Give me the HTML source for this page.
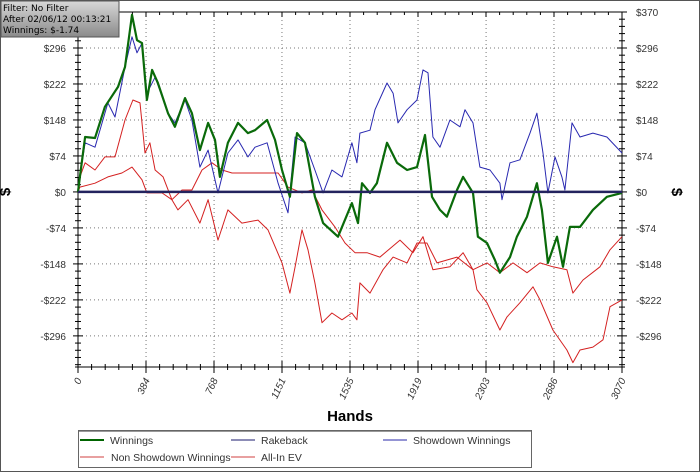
<!DOCTYPE html>
<html><head><meta charset="utf-8"><style>
body{margin:0;background:#fff;}
#wrap{position:relative;width:700px;height:472px;overflow:hidden;font-family:"Liberation Sans",sans-serif;}
svg text{font-family:"Liberation Sans",sans-serif;}
</style></head><body>
<div id="wrap">
<svg id="chart" width="700" height="472" viewBox="0 0 700 472">
<defs><linearGradient id="tg" x1="0" y1="0" x2="0" y2="1"><stop offset="0" stop-color="#d8d8d8"/><stop offset="1" stop-color="#8a8a8a"/></linearGradient></defs>
<rect x="0.5" y="0.5" width="699" height="471" fill="#fff" stroke="#555"/>
<g id="grid"></g><g id="axes"></g><g id="series"></g>
<text x="350" y="421" font-size="15" font-weight="bold" text-anchor="middle">Hands</text>
<text transform="translate(10,192) rotate(-90)" font-size="15" font-weight="bold" text-anchor="middle">$</text>
<text transform="translate(672,192) rotate(90)" font-size="15" font-weight="bold" text-anchor="middle">$</text>
<g>
<rect x="1" y="1" width="118" height="36" fill="url(#tg)" stroke="#555"/>
<text x="3" y="11" font-size="9" style="font-family:'DejaVu Sans',sans-serif">Filter: No Filter</text>
<text x="3" y="22" font-size="9" style="font-family:'DejaVu Sans',sans-serif">After 02/06/12 00:13:21</text>
<text x="3" y="33" font-size="9" style="font-family:'DejaVu Sans',sans-serif">Winnings: $-1.74</text>
</g>
<g>
<rect x="78.5" y="430.5" width="453" height="37" fill="#fff" stroke="#666"/>
<line x1="79" y1="431.5" x2="531" y2="431.5" stroke="#999"/>
<g><line x1="80" y1="440" x2="104" y2="440" stroke="#006400" stroke-width="2"/><text x="110" y="444" font-size="10.5" fill="#333">Winnings</text></g>
<g><line x1="231" y1="440" x2="255" y2="440" stroke="#1a1a6e" stroke-width="1"/><text x="261" y="444" font-size="10.5" fill="#333">Rakeback</text></g>
<g><line x1="383" y1="440" x2="407" y2="440" stroke="#2a2aaa" stroke-width="1"/><text x="413" y="444" font-size="10.5" fill="#333">Showdown Winnings</text></g>
<g><line x1="80" y1="457" x2="104" y2="457" stroke="#e08080" stroke-width="1.5"/><text x="111" y="461" font-size="10.5" fill="#333">Non Showdown Winnings</text></g>
<g><line x1="231" y1="457" x2="255" y2="457" stroke="#e08080" stroke-width="1.5"/><text x="261" y="461" font-size="10.5" fill="#333">All-In EV</text></g>
</g>
</svg>
</div>
<script>
const xTicks=[0,384,768,1151,1535,1919,2303,2686,3070];
const yTicks=[370,296,222,148,74,0,-74,-148,-222,-296];
const yTickLabels=["$370","$296","$222","$148","$74","$0","-$74","-$148","-$222","-$296"];
const winH=[0,11,40,96,152,226,265,305,333,361,389,418,451,508,547,604,643,688,734,773,801,846,903,959,999,1067,1112,1151,1196,1236,1281,1337,1383,1467,1546,1580,1603,1648,1687,1744,1800,1857,1913,1958,1998,2043,2082,2139,2173,2229,2257,2308,2353,2381,2438,2477,2534,2590,2618,2652,2703,2737,2776,2833,2906,2985,3070];
const winV=[0,31,113,111,175,216,257,364,312,306,189,251,224,162,134,193,162,86,142,107,31,101,142,121,127,148,107,45,-10,121,101,-10,-64,-92,-23,-64,18,-2,18,101,60,45,51,117,-10,-37,-51,4,31,-2,-92,-105,-140,-166,-134,-92,-51,18,-37,-146,-92,-154,-72,-72,-37,-10,-2];
const sdH=[0,11,40,96,169,209,265,305,333,361,389,435,508,547,604,643,688,734,790,846,903,959,999,1067,1129,1185,1225,1281,1337,1383,1433,1490,1546,1574,1591,1648,1676,1744,1778,1806,1857,1913,1947,1975,2003,2043,2099,2156,2184,2229,2268,2325,2381,2393,2438,2494,2551,2590,2624,2652,2692,2731,2748,2788,2833,2906,2985,3070];
const sdV=[0,31,101,92,183,154,257,319,286,306,203,236,162,142,189,148,51,86,-2,80,107,72,92,101,18,-43,113,101,45,-2,45,31,101,60,121,127,169,224,203,142,169,189,251,245,113,92,148,134,169,142,51,45,18,-16,60,66,121,162,80,-2,72,31,4,142,113,121,113,80];
const evH=[0,11,40,96,152,209,265,310,350,378,406,435,480,530,564,621,688,734,790,846,925,1016,1072,1151,1196,1225,1264,1298,1337,1377,1433,1490,1546,1574,1591,1648,1721,1778,1857,1913,1969,2026,2139,2229,2251,2308,2381,2421,2494,2568,2607,2680,2759,2793,2833,2906,2963,3002,3070];
const evV=[0,31,60,45,72,72,148,189,183,80,101,45,31,-16,-37,-16,-64,-16,-99,-37,-64,-58,-78,-146,-208,-154,-78,-119,-187,-269,-249,-263,-249,-263,-187,-208,-160,-134,-146,-105,-105,-146,-134,-160,-201,-228,-284,-257,-228,-195,-222,-284,-325,-351,-325,-319,-304,-236,-222];
const nsH=[0,11,96,169,248,305,361,389,474,530,587,643,700,756,813,869,959,1055,1129,1185,1264,1320,1377,1450,1507,1563,1631,1704,1817,1890,1947,2003,2099,2173,2229,2308,2381,2455,2534,2607,2680,2759,2793,2850,2946,3002,3070];
const nsV=[0,10,18,31,39,51,25,-2,-2,-16,4,4,45,60,45,39,39,39,39,10,-2,4,-37,-72,-105,-125,-125,-134,-99,-125,-92,-160,-154,-125,-160,-146,-166,-146,-166,-146,-154,-160,-208,-181,-154,-119,-92];
const rbH=[0,3070];
const rbV=[0,0];

const L=78,R=622,T=12,B=367,XMAX=3070,YTOP=370,YBOT=-360;
function sx(h){return L+(h/XMAX)*(R-L);}
function sy(v){return T+(YTOP-v)/(YTOP-YBOT)*(B-T);}
const NS="http://www.w3.org/2000/svg";
function mk(tag,attrs,parent){const e=document.createElementNS(NS,tag);for(const k in attrs)e.setAttribute(k,attrs[k]);parent.appendChild(e);return e;}
const grid=document.getElementById('grid'),axes=document.getElementById('axes'),ser=document.getElementById('series');

xTicks.forEach((t,i)=>{
  if(i>0&&i<xTicks.length-1){const g=mk('line',{x1:sx(t),x2:sx(t),y1:T,y2:B,stroke:'#777','stroke-dasharray':'1,3'},grid);
  
  }
  const tx=mk('text',{transform:`translate(${sx(t)+4},380) rotate(-65)`,'font-size':'10','text-anchor':'end',fill:'#333','font-style':'italic'},axes);
  tx.textContent=String(t);
  
  
});
yTicks.forEach((t,i)=>{
  if(t!==0&&t!==370){const g=mk('line',{x1:L,x2:R,y1:sy(t),y2:sy(t),stroke:'#777','stroke-dasharray':'1,3'},grid);
  
  }
  const a=mk('text',{x:66,y:sy(t)+4,'font-size':'10','text-anchor':'end',fill:'#333'},axes);
  a.textContent=yTickLabels[i];
  
  
  const b=mk('text',{x:636,y:sy(t)+4,'font-size':'10',fill:'#333'},axes);
  b.textContent=yTickLabels[i];
  
  
});
mk('line',{x1:L,x2:L,y1:T,y2:B,stroke:'#000'},axes);
mk('line',{x1:R,x2:R,y1:T,y2:B,stroke:'#000'},axes);
mk('line',{x1:L,x2:R,y1:T,y2:T,stroke:'#000'},axes);
mk('line',{x1:L-3,x2:R+3,y1:B,y2:B,stroke:'#000'},axes);
for(let v=370;v>=-360;v-=14.8){const y=sy(v);const maj=Math.abs((370-v)/74-Math.round((370-v)/74))<0.01;const w=maj?5:3;
  mk('line',{x1:L-w,x2:L+w,y1:y,y2:y,stroke:'#000'},axes);mk('line',{x1:R-w,x2:R+w,y1:y,y2:y,stroke:'#000'},axes);}
for(let k=0;k<=40;k++){const h=k*XMAX/40;const maj=k%5===0;const x=sx(h);
  mk('line',{x1:x,x2:x,y1:B-(maj?6:3),y2:B+(maj?6:3),stroke:'#000'},axes);
  mk('line',{x1:x,x2:x,y1:T,y2:T+(maj?5:3),stroke:'#000'},axes);}

function line(H,V,color,w,name){
  const d=H.map((h,i)=>(i?'L':'M')+sx(h).toFixed(1)+','+sy(V[i]).toFixed(1)).join('');
  const p=mk('path',{d:d,fill:'none',stroke:color,'stroke-width':w,'stroke-linejoin':'round'},ser);
  
  
}
line(evH,evV,'#d42020',1,'all-in-ev-line');
line(nsH,nsV,'#d42020',1,'non-showdown-winnings-line');
line(sdH,sdV,'#2828b0',1,'showdown-winnings-line');
line(winH,winV,'#0a6a0a',2.2,'winnings-line');
line(rbH,rbV,'#23235e',2.5,'rakeback-line');
</script>
</body></html>
